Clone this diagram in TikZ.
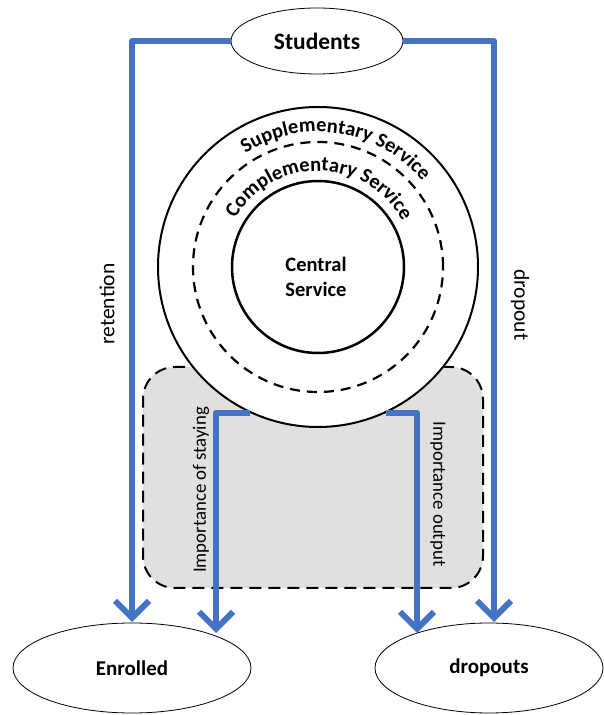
\documentclass[tikz,border=0pt]{standalone}
\usepackage{fontspec}
\setmainfont{Carlito}
\usetikzlibrary{arrows.meta,shapes.geometric,decorations.text}
\definecolor{flowblue}{RGB}{68,114,196}
\definecolor{boxgray}{RGB}{224,224,224}
\begin{document}
\begin{tikzpicture}[x=1pt,y=1pt,
  flow/.style={draw=flowblue,line width=6pt,line join=round,
    -{Straight Barb[length=17pt,width=34pt]}},
  oval/.style={ellipse,draw=black,line width=0.8pt,fill=white,inner sep=0pt,
    font=\bfseries\fontsize{21}{25}\selectfont},
  ring/.style={circle,draw=black,inner sep=0pt},
  sidelabel/.style={font=\fontsize{21.5}{25}\selectfont},
  implabel/.style={font=\fontsize{18.8}{22}\selectfont}]
\useasboundingbox (0,0) rectangle (603,715);

% gray dashed region
\node[draw=black,line width=2pt,dash pattern=on 12pt off 7pt,rounded corners=32pt,
  fill=boxgray,minimum width=340pt,minimum height=221pt,inner sep=0pt] (box) at (313,237.5) {};

% service circles
\node[ring,line width=2pt,fill=white,minimum size=320pt] (outer) at (318,448) {};
\node[ring,line width=2.2pt,dash pattern=on 10pt off 7pt,minimum size=250pt] (mid) at (318,448) {};
\node[ring,line width=2.5pt,minimum size=172pt] (inner) at (318,448) {};
\node[align=center,font=\bfseries\fontsize{20.5}{25}\selectfont] (central) at (316,438) {Central\\Service};

\path[decorate,decoration={text along path,text align=center,
  text={|\bfseries\fontsize{20.5}{24}\selectfont|Supplementary Service}}]
  (318,448) ++(171:135) arc[start angle=171,end angle=-9,radius=135];
\path[decorate,decoration={text along path,text align=center,
  text={|\bfseries\fontsize{20.5}{24}\selectfont|Complementary Service}}]
  (318,448) ++(179:96) arc[start angle=179,end angle=-1,radius=96];

% ovals
\node[oval,minimum width=172pt,minimum height=66pt,font=\bfseries\fontsize{23.5}{27}\selectfont] (stud) at (317,674) {Students};
\node[oval,minimum width=238pt,minimum height=90pt] (enr) at (132,47) {Enrolled};
\node[oval,minimum width=228pt,minimum height=90pt] (drp) at (489,47) {dropouts};

% arrow ends
\coordinate (retend) at (132,93);
\coordinate (dropend) at (494,93);
\coordinate (stayend) at (216,82);
\coordinate (outend) at (417,82);

% connectors
\draw[flow] (stud.west) -| (retend);
\draw[flow] (stud.east) -| (dropend);
\draw[flow] (outer.-115) -| (stayend);
\draw[flow] (outer.-65) -| (outend);

% labels
\node[sidelabel,rotate=90] (ret) at (107,411) {retention};
\node[sidelabel,rotate=-90] (dro) at (520,410) {dropout};
\node[implabel,rotate=90] (stay) at (201,225) {Importance of staying};
\node[implabel,rotate=-90] (impout) at (438,221) {Importance output};
\end{tikzpicture}
\end{document}
